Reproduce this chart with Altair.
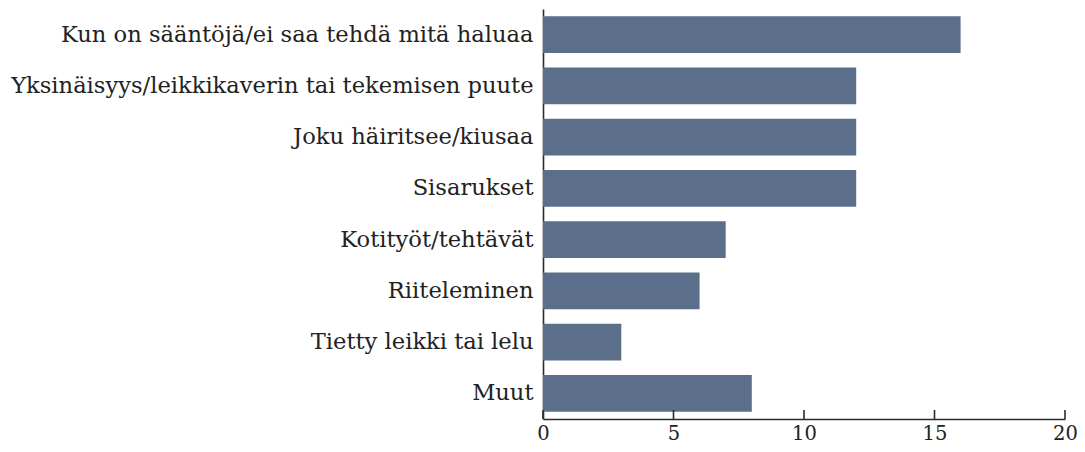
import altair as alt
import pandas as pd

categories = [
    "Kun on sääntöjä/ei saa tehdä mitä haluaa",
    "Yksinäisyys/leikkikaverin tai tekemisen puute",
    "Joku häiritsee/kiusaa",
    "Sisarukset",
    "Kotityöt/tehtävät",
    "Riiteleminen",
    "Tietty leikki tai lelu",
    "Muut",
]
values = [16, 12, 12, 12, 7, 6, 3, 8]
tick_values = [0, 5, 10, 15, 20]

df = pd.DataFrame({"cat": categories, "val": values})
ticks_df = pd.DataFrame({"t": tick_values})

FONT = "DejaVu Serif"
W, H = 522, 410
AX = "#2b2b2b"

x_scale = alt.Scale(domain=[0, 20], nice=False, zero=True)

bars = alt.Chart(df).mark_bar(color="#5b6f8b").encode(
    x=alt.X("val:Q", scale=x_scale,
            axis=alt.Axis(title=None, values=tick_values, ticks=False,
                          grid=False, domainColor=AX, domainWidth=1.6,
                          labelFont=FONT, labelFontSize=19.5, labelColor="#222",
                          labelPadding=5, labelFlush=False)),
    y=alt.Y("cat:N", sort=categories,
            scale=alt.Scale(paddingInner=0.285, paddingOuter=0.1425),
            axis=alt.Axis(title=None, ticks=False, grid=False,
                          domainColor=AX, domainWidth=1.6,
                          labelFont=FONT, labelFontSize=22.6, labelColor="#222",
                          labelPadding=10, labelLimit=600)),
)

tick_marks = alt.Chart(ticks_df).mark_rule(color=AX, strokeWidth=1.6).encode(
    x=alt.X("t:Q", scale=x_scale),
    y=alt.value(H),
    y2=alt.value(H - 9),
)

chart = alt.layer(bars, tick_marks).properties(
    width=W, height=H,
    background="white",
    autosize=alt.AutoSizeParams(type="none"),
    padding={"left": 535, "top": 1, "right": 12, "bottom": 25},
).configure_view(strokeWidth=0, stroke=None)

chart.save("out.html", embed_options={"renderer": "svg", "actions": False})
